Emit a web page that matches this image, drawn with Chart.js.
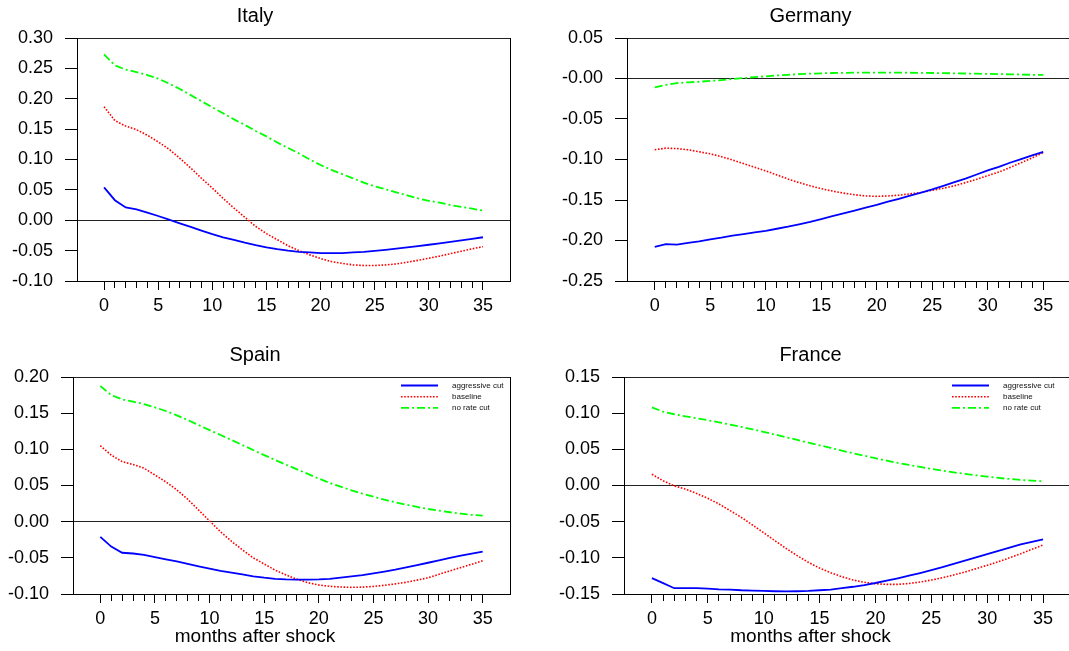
<!DOCTYPE html>
<html>
<head>
<meta charset="utf-8">
<script src="https://cdn.jsdelivr.net/npm/chart.js@4.4.1/dist/chart.umd.min.js"></script>
<style>
    html, body { margin: 0; padding: 0; background: #fff; width: 1069px; height: 651px; overflow: hidden; }
    canvas { position: absolute; }
</style>
</head>
<body>
<canvas id="graficoItalia" width="516" height="321" style="left:0px;top:0px"></canvas>
<canvas id="graficoAlemania" width="524" height="321" style="left:550px;top:0px"></canvas>
<canvas id="graficoEspania" width="516" height="310" style="left:0px;top:339px"></canvas>
<canvas id="graficoFrancia" width="524" height="310" style="left:550px;top:339px"></canvas>
<script>
const months = [0, 1, 2, 3, 4, 5, 6, 7, 8, 9, 10, 11, 12, 13, 14, 15, 16, 17, 18, 19, 20, 21, 22, 23, 24, 25, 26, 27, 28, 29, 30, 31, 32, 33, 34, 35];
const majorMonths = [0, 5, 10, 15, 20, 25, 30, 35];
const seriesNames = ["aggressive cut", "baseline", "no rate cut"];
const xTitle = "months after shock";

// Italy
const italyAggressive = [0.054, 0.033, 0.021, 0.018, 0.0125, 0.007, 0.001, -0.005, -0.011, -0.017, -0.023, -0.028, -0.0325, -0.037, -0.041, -0.0445, -0.0475, -0.050, -0.052, -0.053, -0.054, -0.054, -0.054, -0.053, -0.052, -0.0505, -0.0487, -0.0467, -0.0446, -0.0425, -0.0403, -0.038, -0.0357, -0.0333, -0.0308, -0.028];
const italyBaseline = [0.187, 0.164, 0.155, 0.149, 0.140, 0.129, 0.117, 0.102, 0.086, 0.069, 0.053, 0.036, 0.020, 0.005, -0.010, -0.022, -0.032, -0.042, -0.050, -0.057, -0.063, -0.068, -0.071, -0.0735, -0.0745, -0.0745, -0.0735, -0.072, -0.069, -0.066, -0.0625, -0.059, -0.055, -0.051, -0.047, -0.0435];
const italyNoCut = [0.273, 0.255, 0.248, 0.244, 0.239, 0.233, 0.225, 0.216, 0.206, 0.196, 0.186, 0.176, 0.166, 0.157, 0.147, 0.138, 0.128, 0.119, 0.110, 0.100, 0.091, 0.083, 0.076, 0.069, 0.062, 0.056, 0.051, 0.046, 0.041, 0.036, 0.032, 0.029, 0.025, 0.022, 0.019, 0.016];
const italyYTicks = [-0.10, -0.05, 0, 0.05, 0.10, 0.15, 0.20, 0.25, 0.30];
const italyYLabels = ["-0.10", "-0.05", "0.00", "0.05", "0.10", "0.15", "0.20", "0.25", "0.30"];

// Germany
const germanyAggressive = [-0.208, -0.2045, -0.205, -0.203, -0.201, -0.1985, -0.1965, -0.194, -0.192, -0.190, -0.188, -0.1855, -0.183, -0.180, -0.177, -0.1735, -0.170, -0.1665, -0.163, -0.1595, -0.156, -0.152, -0.1485, -0.1445, -0.141, -0.137, -0.1325, -0.128, -0.1235, -0.1185, -0.1135, -0.109, -0.104, -0.0995, -0.095, -0.0905];
const germanyBaseline = [-0.088, -0.086, -0.0865, -0.088, -0.0905, -0.093, -0.0965, -0.1005, -0.105, -0.1095, -0.114, -0.119, -0.124, -0.1285, -0.1325, -0.136, -0.139, -0.1415, -0.1435, -0.145, -0.1455, -0.145, -0.144, -0.1425, -0.1405, -0.138, -0.1355, -0.1325, -0.1285, -0.1245, -0.120, -0.1155, -0.110, -0.104, -0.098, -0.0915];
const germanyNoCut = [-0.011, -0.008, -0.0057, -0.0047, -0.004, -0.003, -0.0019, -0.0007, 0.0005, 0.0017, 0.0027, 0.0038, 0.0046, 0.0054, 0.006, 0.0064, 0.0068, 0.007, 0.0072, 0.0073, 0.0073, 0.0073, 0.0072, 0.0071, 0.007, 0.0068, 0.0066, 0.0064, 0.0062, 0.0059, 0.0057, 0.0054, 0.0052, 0.0049, 0.0046, 0.0044];
const germanyYTicks = [-0.25, -0.20, -0.15, -0.10, -0.05, 0, 0.05];
const germanyYLabels = ["-0.25", "-0.20", "-0.15", "-0.10", "-0.05", "-0.00", "0.05"];

// Spain
const spainAggressive = [-0.021, -0.0345, -0.043, -0.044, -0.046, -0.049, -0.052, -0.055, -0.0585, -0.0617, -0.065, -0.068, -0.0705, -0.073, -0.0755, -0.0775, -0.079, -0.0797, -0.080, -0.080, -0.0797, -0.079, -0.0775, -0.0757, -0.0738, -0.0715, -0.069, -0.0663, -0.0632, -0.060, -0.0568, -0.0535, -0.0502, -0.047, -0.0443, -0.0415];
const spainBaseline = [0.105, 0.092, 0.083, 0.079, 0.074, 0.0645, 0.055, 0.044, 0.031, 0.016, 0.001, -0.014, -0.027, -0.039, -0.050, -0.0585, -0.067, -0.0737, -0.0797, -0.0844, -0.0876, -0.0894, -0.0903, -0.0908, -0.0905, -0.0895, -0.088, -0.086, -0.0838, -0.0808, -0.0775, -0.0728, -0.068, -0.0635, -0.0588, -0.054];
const spainNoCut = [0.1875, 0.175, 0.169, 0.166, 0.1625, 0.158, 0.153, 0.147, 0.1405, 0.1335, 0.1265, 0.1198, 0.113, 0.106, 0.099, 0.092, 0.0853, 0.0788, 0.0724, 0.066, 0.0595, 0.0535, 0.0484, 0.0433, 0.0387, 0.0345, 0.0304, 0.0267, 0.0235, 0.0203, 0.0175, 0.0152, 0.013, 0.011, 0.0093, 0.0083];
const spainYTicks = [-0.10, -0.05, 0, 0.05, 0.10, 0.15, 0.20];
const spainYLabels = ["-0.10", "-0.05", "0.00", "0.05", "0.10", "0.15", "0.20"];

// France
const franceAggressive = [-0.128, -0.135, -0.142, -0.142, -0.142, -0.1425, -0.1435, -0.144, -0.1448, -0.1452, -0.1458, -0.1462, -0.1465, -0.1462, -0.1458, -0.1448, -0.144, -0.142, -0.140, -0.1376, -0.1348, -0.1316, -0.1283, -0.1247, -0.121, -0.117, -0.1128, -0.1083, -0.104, -0.0995, -0.095, -0.0905, -0.086, -0.0815, -0.0778, -0.0745];
const franceBaseline = [0.0155, 0.0065, -0.0005, -0.005, -0.011, -0.0177, -0.0256, -0.0348, -0.044, -0.0546, -0.0653, -0.0763, -0.0869, -0.097, -0.1062, -0.1141, -0.1206, -0.1261, -0.1307, -0.1338, -0.1358, -0.1367, -0.1367, -0.1355, -0.1334, -0.1307, -0.1275, -0.1237, -0.1196, -0.115, -0.1103, -0.1054, -0.100, -0.0943, -0.0882, -0.0823];
const franceNoCut = [0.108, 0.102, 0.0985, 0.0957, 0.093, 0.0902, 0.0874, 0.0842, 0.081, 0.0777, 0.0742, 0.0705, 0.0668, 0.063, 0.0593, 0.0556, 0.0519, 0.0482, 0.0446, 0.0412, 0.0377, 0.0344, 0.0312, 0.0284, 0.0256, 0.0229, 0.0205, 0.0182, 0.016, 0.0141, 0.0123, 0.0105, 0.009, 0.0077, 0.0067, 0.0058];
const franceYTicks = [-0.15, -0.10, -0.05, 0, 0.05, 0.10, 0.15];
const franceYLabels = ["-0.15", "-0.10", "-0.05", "0.00", "0.05", "0.10", "0.15"];

const fuente = '"Liberation Sans", Arial, Helvetica, sans-serif';
Chart.defaults.font.family = fuente;
Chart.defaults.color = "#000";

// leyenda dentro del area del grafico (linea + texto)
const leyendaLineas = {
    id: "leyendaLineas",
    afterDatasetsDraw(chart, args, opts) {
        if (!opts.mostrar) return;
        const ctx = chart.ctx;
        const area = chart.chartArea;
        const x0 = area.left + opts.desdeIzq;
        chart.data.datasets.forEach((ds, i) => {
            const y = area.top + opts.desdeArriba + i * opts.separacion;
            ctx.save();
            ctx.strokeStyle = ds.borderColor;
            ctx.lineWidth = ds.borderWidth;
            ctx.setLineDash(ds.borderDash || []);
            ctx.beginPath();
            ctx.moveTo(x0, y);
            ctx.lineTo(x0 + 37, y);
            ctx.stroke();
            ctx.setLineDash([]);
            ctx.fillStyle = "#111";
            ctx.font = "8px " + fuente;
            ctx.textBaseline = "middle";
            ctx.fillText(ds.label, x0 + 51, y);
            ctx.restore();
        });
    }
};

function puntos(valores) {
    return months.map((m, i) => ({ x: m, y: valores[i] }));
}

function crearGrafico(id, titulo, series, yTicks, yLabels, anchoEjeY, conEjeX, conLeyenda) {
    const ultimo = yTicks.length - 1;
    new Chart(document.getElementById(id), {
        type: "line",
        data: {
            datasets: [
                { label: seriesNames[0], data: puntos(series[0]), borderColor: "#0000ff", borderWidth: 1.8, pointRadius: 0, fill: false },
                { label: seriesNames[1], data: puntos(series[1]), borderColor: "#ff0000", borderWidth: 1.6, borderDash: [1.6, 1.6], pointRadius: 0, fill: false },
                { label: seriesNames[2], data: puntos(series[2]), borderColor: "#00ff00", borderWidth: 1.8, borderDash: [8, 3, 2, 3], pointRadius: 0, fill: false }
            ]
        },
        options: {
            responsive: false,
            animation: false,
            layout: { padding: { left: 0, right: id === "graficoItalia" || id === "graficoEspania" ? 6 : 3, top: 0, bottom: 0 } },
            scales: {
                x: {
                    type: "linear",
                    min: -2.5,
                    max: 37.5,
                    afterBuildTicks: axis => { axis.ticks = months.map(m => ({ value: m })); },
                    afterFit: axis => { axis.height = conEjeX ? 30 : 40; },
                    grid: {
                        drawOnChartArea: false,
                        tickLength: 9,
                        color: "#000",
                        tickBorderDash: ctx => (ctx.tick && majorMonths.includes(ctx.tick.value)) ? [] : [6, 30]
                    },
                    border: { color: "#000", width: 1 },
                    ticks: {
                        autoSkip: false,
                        maxRotation: 0,
                        padding: 5,
                        font: { size: 18 },
                        callback: v => majorMonths.includes(v) ? String(v) : ""
                    }
                },
                y: {
                    type: "linear",
                    min: yTicks[0],
                    max: yTicks[ultimo],
                    afterBuildTicks: axis => { axis.ticks = yTicks.map(v => ({ value: v })); },
                    afterFit: axis => { axis.width = anchoEjeY; },
                    grid: {
                        color: ctx => (ctx.tick && (ctx.tick.value === 0 || ctx.index === ultimo)) ? "#222" : "rgba(0,0,0,0)",
                        tickColor: "#000",
                        tickLength: 12
                    },
                    border: { color: "#000", width: 1 },
                    ticks: {
                        padding: 12,
                        font: { size: 18 },
                        callback: (v, i) => yLabels[i]
                    }
                },
                yDerecha: {
                    position: "right",
                    min: yTicks[0],
                    max: yTicks[ultimo],
                    afterFit: axis => { axis.width = 0; },
                    grid: { drawOnChartArea: false, drawTicks: false },
                    ticks: { display: false },
                    border: { color: "#000", width: 1 }
                }
            },
            plugins: {
                legend: { display: false },
                tooltip: { enabled: false },
                title: {
                    display: true,
                    text: titulo,
                    color: "#000",
                    font: { size: 20, weight: "normal" },
                    padding: { top: 4.7, bottom: 9.3 }
                },
                subtitle: {
                    display: conEjeX,
                    position: "bottom",
                    text: xTitle,
                    color: "#000",
                    font: { size: 19, weight: "normal" },
                    padding: { top: 1.6, bottom: 0.6 }
                },
                leyendaLineas: { mostrar: conLeyenda, desdeIzq: 328, desdeArriba: 8.5, separacion: 11.2 }
            }
        },
        plugins: [leyendaLineas]
    });
}

crearGrafico("graficoItalia", "Italy", [italyAggressive, italyBaseline, italyNoCut], italyYTicks, italyYLabels, 77, false, false);
crearGrafico("graficoAlemania", "Germany", [germanyAggressive, germanyBaseline, germanyNoCut], germanyYTicks, germanyYLabels, 77, false, false);
crearGrafico("graficoEspania", "Spain", [spainAggressive, spainBaseline, spainNoCut], spainYTicks, spainYLabels, 73, true, true);
crearGrafico("graficoFrancia", "France", [franceAggressive, franceBaseline, franceNoCut], franceYTicks, franceYLabels, 74, true, true);
</script>
</body>
</html>
